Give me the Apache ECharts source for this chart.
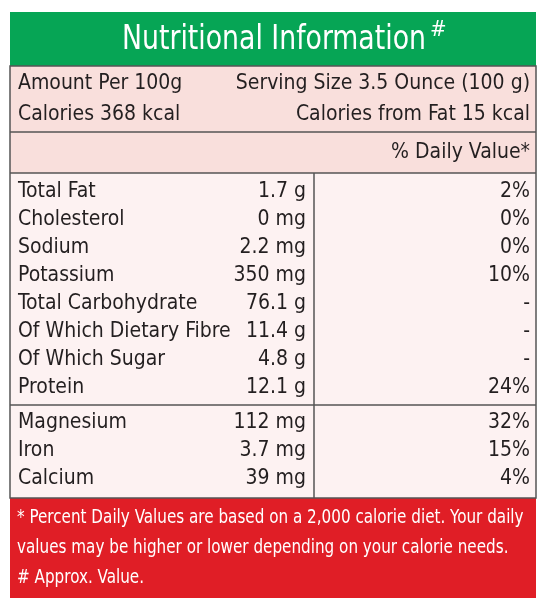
<!DOCTYPE html>
<html><head><meta charset="utf-8">
<script src="https://cdn.jsdelivr.net/npm/echarts@6/dist/echarts.min.js"></script>
<style>html,body{margin:0;padding:0;background:#fff}#c{width:546px;height:602px}</style>
</head><body><div id="c"></div>
<script>
const nutrients = ['Total Fat', 'Cholesterol', 'Sodium', 'Potassium', 'Total Carbohydrate', 'Of Which Dietary Fibre', 'Of Which Sugar', 'Protein']
const amounts = ['1.7 g', '0 mg', '2.2 mg', '350 mg', '76.1 g', '11.4 g', '4.8 g', '12.1 g']
const dailyValues = ['2%', '0%', '0%', '10%', '-', '-', '-', '24%']
const minerals = ['Magnesium', 'Iron', 'Calcium']
const mineralAmounts = ['112 mg', '3.7 mg', '39 mg']
const mineralDaily = ['32%', '15%', '4%']
const footnotes = [
  '* Percent Daily Values are based on a 2,000 calorie diet. Your daily',
  'values may be higher or lower depending on your calorie needs.',
  '# Approx. Value.'
]

const font = "'Liberation Sans Narrow', 'DejaVu Sans Condensed', sans-serif"
const ink = '#231f20'
const L = 10, R = 536

function txt(x, y, s, opts = {}) {
  return {
    type: 'text', x, y, scaleX: opts.sx || 1,
    style: {
      text: s, fill: opts.fill || ink, font: (opts.size || 21) + 'px ' + font,
      textAlign: opts.align || 'left', textVerticalAlign: 'middle'
    }
  }
}
function rect(x, y, w, h, fill) {
  return {type: 'rect', shape: {x, y, width: w, height: h}, style: {fill}}
}
function line(x1, y1, x2, y2) {
  return {type: 'line', shape: {x1, y1, x2, y2}, style: {stroke: '#555', lineWidth: 1.5}}
}

const els = [
  rect(L, 12, R - L, 54, '#06a555'),
  rect(L, 66, R - L, 107, '#f9dfdc'),
  rect(L, 173, R - L, 325, '#fdf2f2'),
  rect(L, 498, R - L, 100, '#e01e26'),
  txt(274, 40, 'Nutritional Information', {fill: '#fff', size: 33, align: 'center', sx: 0.9}),
  txt(430, 30, '#', {fill: '#fff', size: 22}),
  txt(18, 84, 'Amount Per 100g'),
  txt(530, 84, 'Serving Size 3.5 Ounce (100 g)', {align: 'right'}),
  txt(18, 115, 'Calories 368 kcal'),
  txt(530, 115, 'Calories from Fat 15 kcal', {align: 'right'}),
  txt(530, 153, '% Daily Value*', {align: 'right'}),
  line(L, 132, R, 132),
  line(L, 173, R, 173),
  line(L, 405, R, 405),
  line(314, 173, 314, 498),
  {type: 'rect', shape: {x: L, y: 66, width: R - L, height: 432}, style: {fill: 'none', stroke: '#555', lineWidth: 1.5}}
]

nutrients.forEach((n, i) => {
  const y = 192 + i * 27.9
  els.push(txt(18, y, n), txt(306, y, amounts[i], {align: 'right'}), txt(530, y, dailyValues[i], {align: 'right'}))
})
minerals.forEach((n, i) => {
  const y = 423 + i * 28
  els.push(txt(18, y, n), txt(306, y, mineralAmounts[i], {align: 'right'}), txt(530, y, mineralDaily[i], {align: 'right'}))
})
footnotes.forEach((s, i) => {
  els.push(txt(17, 518 + i * 30, s, {fill: '#fff', size: 20, sx: 0.845}))
})

const chart = echarts.init(document.getElementById('c'), null, {renderer: 'canvas'})
chart.setOption({animation: false, graphic: {elements: els}})
</script></body></html>
